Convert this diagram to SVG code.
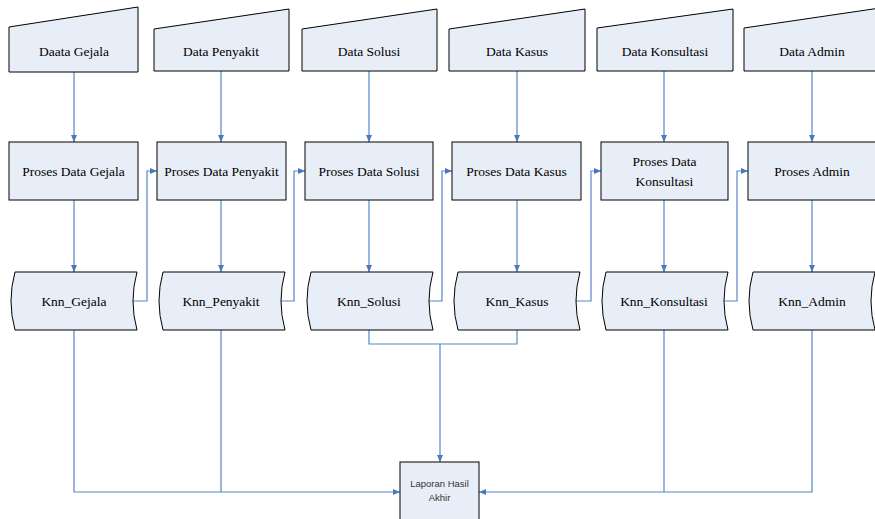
<svg xmlns="http://www.w3.org/2000/svg" width="875" height="519" viewBox="0 0 875 519">
<style>
.shape{fill:#E8EEF7;stroke:#000;stroke-width:1}
.lbl{font-size:13.5px;fill:#000;text-anchor:middle}
.sm{font-size:9.5px;fill:#333;text-anchor:middle}
.con{fill:none;stroke:#5A86C6;stroke-width:1.2}
</style>
<defs>
<marker id="ah" markerUnits="userSpaceOnUse" markerWidth="8" markerHeight="7" refX="7" refY="3" orient="auto">
<path d="M0,0 L7,3 L0,6 Z" fill="#4A78BE"/>
</marker>
</defs>
<rect width="875" height="519" fill="#fff"/>
<g id="connectors">
<path class="con" d="M74,72 V142" marker-end="url(#ah)"/>
<path class="con" d="M221,71 V142" marker-end="url(#ah)"/>
<path class="con" d="M369,71 V142" marker-end="url(#ah)"/>
<path class="con" d="M517,71 V142" marker-end="url(#ah)"/>
<path class="con" d="M664,71 V142" marker-end="url(#ah)"/>
<path class="con" d="M812,71 V142" marker-end="url(#ah)"/>
<path class="con" d="M74,200 V272" marker-end="url(#ah)"/>
<path class="con" d="M221,200 V272" marker-end="url(#ah)"/>
<path class="con" d="M369,200 V272" marker-end="url(#ah)"/>
<path class="con" d="M517,200 V272" marker-end="url(#ah)"/>
<path class="con" d="M664,200 V272" marker-end="url(#ah)"/>
<path class="con" d="M812,200 V272" marker-end="url(#ah)"/>
<path class="con" d="M133,301 H147 V171 H157" marker-end="url(#ah)"/>
<path class="con" d="M281,301 H294 V171 H305" marker-end="url(#ah)"/>
<path class="con" d="M429,301 H442 V171 H452" marker-end="url(#ah)"/>
<path class="con" d="M576,301 H591 V171 H601" marker-end="url(#ah)"/>
<path class="con" d="M724,301 H737 V171 H748" marker-end="url(#ah)"/>
<path class="con" d="M74,330 V492 H400" marker-end="url(#ah)"/>
<path class="con" d="M221,330 V492"/>
<path class="con" d="M369,330 V344 H517 V330"/>
<path class="con" d="M440,344 V462" marker-end="url(#ah)"/>
<path class="con" d="M812,330 V492 H479" marker-end="url(#ah)"/>
<path class="con" d="M664,330 V492"/>
</g>
<g font-family="'Liberation Serif', 'Times New Roman', serif">
<g id="data-gejala"><path class="shape" d="M9,27 L138,7 L138,72 L9,72 Z"/><text class="lbl" x="74" y="56">Daata Gejala</text></g>
<g id="data-penyakit"><path class="shape" d="M154,29 L289,9 L289,71 L154,71 Z"/><text class="lbl" x="221" y="56">Data Penyakit</text></g>
<g id="data-solusi"><path class="shape" d="M302,29 L437,9 L437,71 L302,71 Z"/><text class="lbl" x="369" y="56">Data Solusi</text></g>
<g id="data-kasus"><path class="shape" d="M449,29 L585,9 L585,71 L449,71 Z"/><text class="lbl" x="517" y="56">Data Kasus</text></g>
<g id="data-konsultasi"><path class="shape" d="M597,28 L733,9 L733,71 L597,71 Z"/><text class="lbl" x="665" y="56">Data Konsultasi</text></g>
<g id="data-admin"><path class="shape" d="M744,28 L880,8 L880,71 L744,71 Z"/><text class="lbl" x="812" y="56">Data Admin</text></g>
<g id="proses-gejala"><rect class="shape" x="9" y="142" width="129" height="58"/><text class="lbl" x="73.5" y="175.5">Proses Data Gejala</text></g>
<g id="proses-penyakit"><rect class="shape" x="157" y="142" width="129" height="58"/><text class="lbl" x="221.5" y="175.5">Proses Data Penyakit</text></g>
<g id="proses-solusi"><rect class="shape" x="305" y="142" width="128" height="58"/><text class="lbl" x="369" y="175.5">Proses Data Solusi</text></g>
<g id="proses-kasus"><rect class="shape" x="452" y="142" width="129" height="58"/><text class="lbl" x="516.5" y="175.5">Proses Data Kasus</text></g>
<g id="proses-konsultasi"><rect class="shape" x="601" y="142" width="127" height="58"/><text class="lbl" x="664.5" y="165.5">Proses Data</text><text class="lbl" x="664.5" y="185.5">Konsultasi</text></g>
<g id="proses-admin"><rect class="shape" x="748" y="142" width="129" height="58"/><text class="lbl" x="812" y="175.5">Proses Admin</text></g>
<g id="knn-gejala"><path class="shape" d="M15,272 L137,272 Q129,301 137,330 L15,330 Q7,301 15,272 Z"/><text class="lbl" x="74" y="306">Knn_Gejala</text></g>
<g id="knn-penyakit"><path class="shape" d="M163,272 L285,272 Q277,301 285,330 L163,330 Q155,301 163,272 Z"/><text class="lbl" x="221" y="306">Knn_Penyakit</text></g>
<g id="knn-solusi"><path class="shape" d="M311,272 L433,272 Q425,301 433,330 L311,330 Q303,301 311,272 Z"/><text class="lbl" x="369" y="306">Knn_Solusi</text></g>
<g id="knn-kasus"><path class="shape" d="M458,272 L580,272 Q572,301 580,330 L458,330 Q450,301 458,272 Z"/><text class="lbl" x="517" y="306">Knn_Kasus</text></g>
<g id="knn-konsultasi"><path class="shape" d="M606,272 L728,272 Q720,301 728,330 L606,330 Q598,301 606,272 Z"/><text class="lbl" x="664" y="306">Knn_Konsultasi</text></g>
<g id="knn-admin"><path class="shape" d="M753,272 L875,272 Q867,301 875,330 L753,330 Q745,301 753,272 Z"/><text class="lbl" x="812" y="306">Knn_Admin</text></g>
</g>
<g id="laporan" font-family="'Liberation Sans', Arial, sans-serif"><rect class="shape" x="400" y="462" width="79" height="70"/><text class="sm" x="439.5" y="487">Laporan Hasil</text><text class="sm" x="439.5" y="501">Akhir</text></g>
</svg>
